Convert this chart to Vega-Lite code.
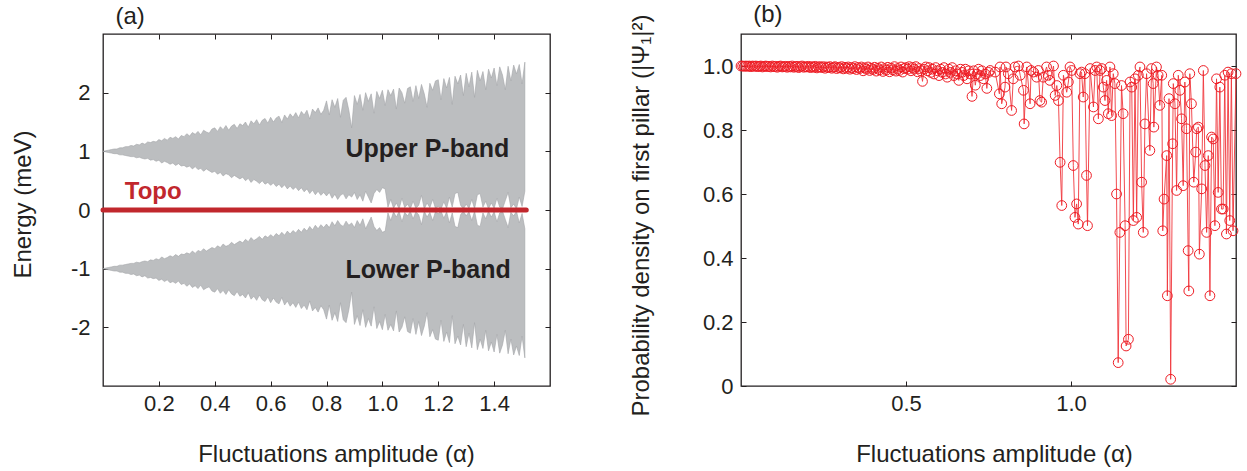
{
  "$schema": "https://vega.github.io/schema/vega-lite/v6.json",
  "background": "white",
  "padding": {"left": 10, "top": 2, "right": 0, "bottom": 0},
  "config": {
    "font": "Liberation Sans",
    "view": {"stroke": "#231f20", "strokeWidth": 1.3},
    "axis": {"domain": false, "grid": false, "tickSize": -5, "tickColor": "#231f20", "tickWidth": 1, "labelFontSize": 22, "labelColor": "#231f20", "labelFont": "Liberation Sans", "titleFontSize": 24, "titleFontWeight": "normal", "titleColor": "#231f20", "titleFont": "Liberation Sans"}
  },
  "datasets": {
    "bands": [
      {"x":0.00,"ut":1.00,"ub":1.00,"lt":-1.00,"lb":-1.00},
      {"x":0.01,"ut":1.01,"ub":0.99,"lt":-0.99,"lb":-1.01},
      {"x":0.02,"ut":1.02,"ub":0.98,"lt":-0.98,"lb":-1.02},
      {"x":0.03,"ut":1.03,"ub":0.97,"lt":-0.97,"lb":-1.03},
      {"x":0.04,"ut":1.04,"ub":0.96,"lt":-0.96,"lb":-1.04},
      {"x":0.05,"ut":1.04,"ub":0.96,"lt":-0.96,"lb":-1.04},
      {"x":0.06,"ut":1.06,"ub":0.94,"lt":-0.94,"lb":-1.06},
      {"x":0.07,"ut":1.06,"ub":0.94,"lt":-0.94,"lb":-1.06},
      {"x":0.08,"ut":1.08,"ub":0.93,"lt":-0.93,"lb":-1.08},
      {"x":0.09,"ut":1.08,"ub":0.92,"lt":-0.92,"lb":-1.08},
      {"x":0.10,"ut":1.10,"ub":0.91,"lt":-0.91,"lb":-1.10},
      {"x":0.11,"ut":1.09,"ub":0.91,"lt":-0.91,"lb":-1.09},
      {"x":0.12,"ut":1.12,"ub":0.89,"lt":-0.89,"lb":-1.12},
      {"x":0.13,"ut":1.11,"ub":0.90,"lt":-0.90,"lb":-1.11},
      {"x":0.14,"ut":1.14,"ub":0.88,"lt":-0.88,"lb":-1.14},
      {"x":0.15,"ut":1.12,"ub":0.87,"lt":-0.87,"lb":-1.12},
      {"x":0.16,"ut":1.16,"ub":0.88,"lt":-0.88,"lb":-1.16},
      {"x":0.17,"ut":1.15,"ub":0.85,"lt":-0.85,"lb":-1.15},
      {"x":0.18,"ut":1.17,"ub":0.86,"lt":-0.86,"lb":-1.17},
      {"x":0.19,"ut":1.16,"ub":0.83,"lt":-0.83,"lb":-1.16},
      {"x":0.20,"ut":1.20,"ub":0.85,"lt":-0.85,"lb":-1.20},
      {"x":0.21,"ut":1.18,"ub":0.80,"lt":-0.80,"lb":-1.18},
      {"x":0.22,"ut":1.22,"ub":0.83,"lt":-0.83,"lb":-1.22},
      {"x":0.23,"ut":1.19,"ub":0.81,"lt":-0.81,"lb":-1.19},
      {"x":0.24,"ut":1.24,"ub":0.78,"lt":-0.78,"lb":-1.24},
      {"x":0.25,"ut":1.22,"ub":0.80,"lt":-0.80,"lb":-1.22},
      {"x":0.26,"ut":1.25,"ub":0.76,"lt":-0.76,"lb":-1.25},
      {"x":0.27,"ut":1.21,"ub":0.79,"lt":-0.79,"lb":-1.21},
      {"x":0.28,"ut":1.27,"ub":0.75,"lt":-0.75,"lb":-1.27},
      {"x":0.29,"ut":1.25,"ub":0.76,"lt":-0.76,"lb":-1.25},
      {"x":0.30,"ut":1.30,"ub":0.73,"lt":-0.73,"lb":-1.30},
      {"x":0.31,"ut":1.26,"ub":0.75,"lt":-0.75,"lb":-1.26},
      {"x":0.32,"ut":1.32,"ub":0.70,"lt":-0.70,"lb":-1.32},
      {"x":0.33,"ut":1.29,"ub":0.74,"lt":-0.74,"lb":-1.29},
      {"x":0.34,"ut":1.34,"ub":0.69,"lt":-0.69,"lb":-1.34},
      {"x":0.35,"ut":1.28,"ub":0.71,"lt":-0.71,"lb":-1.28},
      {"x":0.36,"ut":1.36,"ub":0.66,"lt":-0.66,"lb":-1.36},
      {"x":0.37,"ut":1.33,"ub":0.70,"lt":-0.70,"lb":-1.33},
      {"x":0.38,"ut":1.31,"ub":0.67,"lt":-0.67,"lb":-1.31},
      {"x":0.39,"ut":1.38,"ub":0.64,"lt":-0.64,"lb":-1.38},
      {"x":0.40,"ut":1.40,"ub":0.66,"lt":-0.66,"lb":-1.40},
      {"x":0.41,"ut":1.34,"ub":0.61,"lt":-0.61,"lb":-1.34},
      {"x":0.42,"ut":1.42,"ub":0.64,"lt":-0.64,"lb":-1.42},
      {"x":0.43,"ut":1.37,"ub":0.58,"lt":-0.58,"lb":-1.37},
      {"x":0.44,"ut":1.44,"ub":0.62,"lt":-0.62,"lb":-1.44},
      {"x":0.45,"ut":1.36,"ub":0.60,"lt":-0.60,"lb":-1.36},
      {"x":0.46,"ut":1.43,"ub":0.55,"lt":-0.55,"lb":-1.43},
      {"x":0.47,"ut":1.46,"ub":0.59,"lt":-0.59,"lb":-1.46},
      {"x":0.48,"ut":1.39,"ub":0.56,"lt":-0.56,"lb":-1.39},
      {"x":0.49,"ut":1.47,"ub":0.53,"lt":-0.53,"lb":-1.47},
      {"x":0.50,"ut":1.44,"ub":0.56,"lt":-0.56,"lb":-1.44},
      {"x":0.51,"ut":1.50,"ub":0.50,"lt":-0.50,"lb":-1.50},
      {"x":0.52,"ut":1.41,"ub":0.54,"lt":-0.54,"lb":-1.41},
      {"x":0.53,"ut":1.52,"ub":0.47,"lt":-0.47,"lb":-1.52},
      {"x":0.54,"ut":1.47,"ub":0.52,"lt":-0.52,"lb":-1.47},
      {"x":0.55,"ut":1.54,"ub":0.49,"lt":-0.49,"lb":-1.54},
      {"x":0.56,"ut":1.45,"ub":0.45,"lt":-0.45,"lb":-1.45},
      {"x":0.57,"ut":1.53,"ub":0.50,"lt":-0.50,"lb":-1.53},
      {"x":0.58,"ut":1.56,"ub":0.44,"lt":-0.44,"lb":-1.56},
      {"x":0.59,"ut":1.48,"ub":0.47,"lt":-0.47,"lb":-1.48},
      {"x":0.60,"ut":1.58,"ub":0.42,"lt":-0.42,"lb":-1.58},
      {"x":0.61,"ut":1.50,"ub":0.46,"lt":-0.46,"lb":-1.50},
      {"x":0.62,"ut":1.57,"ub":0.40,"lt":-0.40,"lb":-1.57},
      {"x":0.63,"ut":1.60,"ub":0.44,"lt":-0.44,"lb":-1.60},
      {"x":0.64,"ut":1.49,"ub":0.38,"lt":-0.38,"lb":-1.49},
      {"x":0.65,"ut":1.62,"ub":0.43,"lt":-0.43,"lb":-1.62},
      {"x":0.66,"ut":1.55,"ub":0.36,"lt":-0.36,"lb":-1.55},
      {"x":0.67,"ut":1.64,"ub":0.41,"lt":-0.41,"lb":-1.64},
      {"x":0.68,"ut":1.58,"ub":0.35,"lt":-0.35,"lb":-1.58},
      {"x":0.69,"ut":1.66,"ub":0.39,"lt":-0.39,"lb":-1.66},
      {"x":0.70,"ut":1.57,"ub":0.33,"lt":-0.33,"lb":-1.57},
      {"x":0.71,"ut":1.68,"ub":0.38,"lt":-0.38,"lb":-1.68},
      {"x":0.72,"ut":1.62,"ub":0.31,"lt":-0.31,"lb":-1.62},
      {"x":0.73,"ut":1.70,"ub":0.36,"lt":-0.36,"lb":-1.70},
      {"x":0.74,"ut":1.55,"ub":0.28,"lt":-0.28,"lb":-1.55},
      {"x":0.75,"ut":1.72,"ub":0.34,"lt":-0.34,"lb":-1.72},
      {"x":0.76,"ut":1.66,"ub":0.26,"lt":-0.26,"lb":-1.66},
      {"x":0.77,"ut":1.74,"ub":0.32,"lt":-0.32,"lb":-1.74},
      {"x":0.78,"ut":1.63,"ub":0.25,"lt":-0.25,"lb":-1.63},
      {"x":0.79,"ut":1.70,"ub":0.30,"lt":-0.30,"lb":-1.70},
      {"x":0.80,"ut":1.86,"ub":0.24,"lt":-0.24,"lb":-1.86},
      {"x":0.81,"ut":1.62,"ub":0.30,"lt":-0.30,"lb":-1.62},
      {"x":0.82,"ut":1.88,"ub":0.20,"lt":-0.20,"lb":-1.88},
      {"x":0.83,"ut":1.75,"ub":0.27,"lt":-0.27,"lb":-1.75},
      {"x":0.84,"ut":1.90,"ub":0.18,"lt":-0.18,"lb":-1.90},
      {"x":0.85,"ut":1.58,"ub":0.25,"lt":-0.25,"lb":-1.58},
      {"x":0.86,"ut":1.87,"ub":0.28,"lt":-0.28,"lb":-1.87},
      {"x":0.87,"ut":1.92,"ub":0.19,"lt":-0.19,"lb":-1.92},
      {"x":0.88,"ut":1.70,"ub":0.26,"lt":-0.26,"lb":-1.70},
      {"x":0.89,"ut":1.40,"ub":0.22,"lt":-0.22,"lb":-1.40},
      {"x":0.90,"ut":1.95,"ub":0.30,"lt":-0.30,"lb":-1.95},
      {"x":0.91,"ut":1.80,"ub":0.18,"lt":-0.18,"lb":-1.80},
      {"x":0.92,"ut":1.97,"ub":0.26,"lt":-0.26,"lb":-1.97},
      {"x":0.93,"ut":1.70,"ub":0.15,"lt":-0.15,"lb":-1.70},
      {"x":0.94,"ut":2.00,"ub":0.32,"lt":-0.32,"lb":-2.00},
      {"x":0.95,"ut":1.85,"ub":0.22,"lt":-0.22,"lb":-1.85},
      {"x":0.96,"ut":1.98,"ub":0.12,"lt":-0.12,"lb":-1.98},
      {"x":0.97,"ut":1.65,"ub":0.28,"lt":-0.28,"lb":-1.65},
      {"x":0.98,"ut":2.02,"ub":0.35,"lt":-0.35,"lb":-2.02},
      {"x":0.99,"ut":1.90,"ub":0.30,"lt":-0.30,"lb":-1.90},
      {"x":1.00,"ut":2.04,"ub":0.38,"lt":-0.38,"lb":-2.04},
      {"x":1.01,"ut":1.78,"ub":0.36,"lt":-0.36,"lb":-1.78},
      {"x":1.02,"ut":2.05,"ub":0.05,"lt":-0.05,"lb":-2.05},
      {"x":1.03,"ut":1.95,"ub":0.18,"lt":-0.18,"lb":-1.95},
      {"x":1.04,"ut":2.06,"ub":0.03,"lt":-0.03,"lb":-2.06},
      {"x":1.05,"ut":1.72,"ub":0.12,"lt":-0.12,"lb":-1.72},
      {"x":1.06,"ut":2.08,"ub":0.02,"lt":-0.02,"lb":-2.08},
      {"x":1.07,"ut":2.00,"ub":0.20,"lt":-0.20,"lb":-2.00},
      {"x":1.08,"ut":1.82,"ub":0.04,"lt":-0.04,"lb":-1.82},
      {"x":1.09,"ut":2.07,"ub":0.10,"lt":-0.10,"lb":-2.07},
      {"x":1.10,"ut":2.10,"ub":0.02,"lt":-0.02,"lb":-2.10},
      {"x":1.11,"ut":1.85,"ub":0.15,"lt":-0.15,"lb":-1.85},
      {"x":1.12,"ut":2.12,"ub":0.03,"lt":-0.03,"lb":-2.12},
      {"x":1.13,"ut":1.90,"ub":0.08,"lt":-0.08,"lb":-1.90},
      {"x":1.14,"ut":2.14,"ub":0.25,"lt":-0.25,"lb":-2.14},
      {"x":1.15,"ut":1.98,"ub":0.02,"lt":-0.02,"lb":-1.98},
      {"x":1.16,"ut":1.75,"ub":0.12,"lt":-0.12,"lb":-1.75},
      {"x":1.17,"ut":2.16,"ub":0.04,"lt":-0.04,"lb":-2.16},
      {"x":1.18,"ut":2.04,"ub":0.18,"lt":-0.18,"lb":-2.04},
      {"x":1.19,"ut":2.20,"ub":0.03,"lt":-0.03,"lb":-2.20},
      {"x":1.20,"ut":2.22,"ub":0.06,"lt":-0.06,"lb":-2.22},
      {"x":1.21,"ut":1.88,"ub":0.02,"lt":-0.02,"lb":-1.88},
      {"x":1.22,"ut":2.24,"ub":0.14,"lt":-0.14,"lb":-2.24},
      {"x":1.23,"ut":2.08,"ub":0.03,"lt":-0.03,"lb":-2.08},
      {"x":1.24,"ut":2.26,"ub":0.22,"lt":-0.22,"lb":-2.26},
      {"x":1.25,"ut":1.80,"ub":0.05,"lt":-0.05,"lb":-1.80},
      {"x":1.26,"ut":2.28,"ub":0.28,"lt":-0.28,"lb":-2.28},
      {"x":1.27,"ut":2.15,"ub":0.30,"lt":-0.30,"lb":-2.15},
      {"x":1.28,"ut":2.30,"ub":0.08,"lt":-0.08,"lb":-2.30},
      {"x":1.29,"ut":1.95,"ub":0.02,"lt":-0.02,"lb":-1.95},
      {"x":1.30,"ut":2.33,"ub":0.10,"lt":-0.10,"lb":-2.33},
      {"x":1.31,"ut":2.10,"ub":0.03,"lt":-0.03,"lb":-2.10},
      {"x":1.32,"ut":2.35,"ub":0.18,"lt":-0.18,"lb":-2.35},
      {"x":1.33,"ut":1.92,"ub":0.02,"lt":-0.02,"lb":-1.92},
      {"x":1.34,"ut":2.38,"ub":0.26,"lt":-0.26,"lb":-2.38},
      {"x":1.35,"ut":2.20,"ub":0.28,"lt":-0.28,"lb":-2.20},
      {"x":1.36,"ut":2.36,"ub":0.05,"lt":-0.05,"lb":-2.36},
      {"x":1.37,"ut":2.05,"ub":0.15,"lt":-0.15,"lb":-2.05},
      {"x":1.38,"ut":2.40,"ub":0.02,"lt":-0.02,"lb":-2.40},
      {"x":1.39,"ut":2.25,"ub":0.12,"lt":-0.12,"lb":-2.25},
      {"x":1.40,"ut":2.42,"ub":0.03,"lt":-0.03,"lb":-2.42},
      {"x":1.41,"ut":2.12,"ub":0.20,"lt":-0.20,"lb":-2.12},
      {"x":1.42,"ut":2.44,"ub":0.05,"lt":-0.05,"lb":-2.44},
      {"x":1.43,"ut":2.30,"ub":0.02,"lt":-0.02,"lb":-2.30},
      {"x":1.44,"ut":2.05,"ub":0.16,"lt":-0.16,"lb":-2.05},
      {"x":1.45,"ut":2.45,"ub":0.30,"lt":-0.30,"lb":-2.45},
      {"x":1.46,"ut":2.20,"ub":0.04,"lt":-0.04,"lb":-2.20},
      {"x":1.47,"ut":2.47,"ub":0.10,"lt":-0.10,"lb":-2.47},
      {"x":1.48,"ut":2.32,"ub":0.02,"lt":-0.02,"lb":-2.32},
      {"x":1.49,"ut":2.48,"ub":0.22,"lt":-0.22,"lb":-2.48},
      {"x":1.50,"ut":2.15,"ub":0.06,"lt":-0.06,"lb":-2.15},
      {"x":1.51,"ut":2.52,"ub":0.32,"lt":-0.32,"lb":-2.52}
    ],
    "topo": [
      {"x": 0.0, "y": 0.0},
      {"x": 1.515, "y": 0.0}
    ],
    "prob": [
      {"x":0,"p":1.000},{"x":0.005,"p":1.000},{"x":0.01,"p":0.999},{"x":0.015,"p":1.000},{"x":0.02,"p":0.999},
      {"x":0.025,"p":1.000},{"x":0.03,"p":0.998},{"x":0.035,"p":1.000},{"x":0.04,"p":0.999},{"x":0.045,"p":1.000},
      {"x":0.05,"p":0.998},{"x":0.055,"p":0.999},{"x":0.06,"p":1.000},{"x":0.065,"p":0.997},{"x":0.07,"p":0.999},
      {"x":0.075,"p":1.000},{"x":0.08,"p":0.998},{"x":0.085,"p":0.999},{"x":0.09,"p":0.997},{"x":0.095,"p":1.000},
      {"x":0.1,"p":0.998},{"x":0.105,"p":0.999},{"x":0.11,"p":0.996},{"x":0.115,"p":0.999},{"x":0.12,"p":1.000},
      {"x":0.125,"p":0.997},{"x":0.13,"p":0.998},{"x":0.135,"p":0.999},{"x":0.14,"p":0.996},{"x":0.145,"p":0.999},
      {"x":0.15,"p":0.997},{"x":0.155,"p":1.000},{"x":0.16,"p":0.996},{"x":0.165,"p":0.998},{"x":0.17,"p":0.999},
      {"x":0.175,"p":0.995},{"x":0.18,"p":0.998},{"x":0.185,"p":1.000},{"x":0.19,"p":0.996},{"x":0.195,"p":0.998},
      {"x":0.2,"p":0.997},{"x":0.205,"p":0.999},{"x":0.21,"p":0.995},{"x":0.215,"p":0.998},{"x":0.22,"p":0.996},
      {"x":0.225,"p":0.999},{"x":0.23,"p":0.994},{"x":0.235,"p":0.997},{"x":0.24,"p":0.998},{"x":0.245,"p":0.995},
      {"x":0.25,"p":0.998},{"x":0.255,"p":0.993},{"x":0.26,"p":0.997},{"x":0.265,"p":0.995},{"x":0.27,"p":0.998},
      {"x":0.275,"p":0.993},{"x":0.28,"p":0.996},{"x":0.285,"p":0.998},{"x":0.29,"p":0.992},{"x":0.295,"p":0.996},
      {"x":0.3,"p":0.994},{"x":0.305,"p":0.998},{"x":0.31,"p":0.991},{"x":0.315,"p":0.996},{"x":0.32,"p":0.993},
      {"x":0.325,"p":0.997},{"x":0.33,"p":0.990},{"x":0.335,"p":0.995},{"x":0.34,"p":0.992},{"x":0.345,"p":0.998},
      {"x":0.35,"p":0.989},{"x":0.355,"p":0.995},{"x":0.36,"p":0.992},{"x":0.365,"p":0.997},{"x":0.37,"p":0.985},
      {"x":0.375,"p":0.994},{"x":0.38,"p":0.990},{"x":0.385,"p":0.997},{"x":0.39,"p":0.986},{"x":0.395,"p":0.993},
      {"x":0.4,"p":0.989},{"x":0.405,"p":0.996},{"x":0.41,"p":0.984},{"x":0.415,"p":0.993},{"x":0.42,"p":0.988},
      {"x":0.425,"p":0.997},{"x":0.43,"p":0.983},{"x":0.435,"p":0.992},{"x":0.44,"p":0.987},{"x":0.445,"p":0.996},
      {"x":0.45,"p":0.982},{"x":0.455,"p":0.993},{"x":0.46,"p":0.988},{"x":0.465,"p":0.998},{"x":0.47,"p":0.984},
      {"x":0.475,"p":0.992},{"x":0.48,"p":0.986},{"x":0.485,"p":0.997},{"x":0.49,"p":0.981},{"x":0.495,"p":0.992},
      {"x":0.5,"p":0.995},{"x":0.505,"p":0.990},{"x":0.51,"p":0.998},{"x":0.515,"p":0.985},{"x":0.52,"p":0.995},
      {"x":0.525,"p":0.990},{"x":0.53,"p":0.998},{"x":0.535,"p":0.982},{"x":0.54,"p":0.992},{"x":0.545,"p":0.985},
      {"x":0.55,"p":0.952},{"x":0.555,"p":0.990},{"x":0.56,"p":0.997},{"x":0.565,"p":0.985},{"x":0.57,"p":0.995},
      {"x":0.575,"p":0.980},{"x":0.58,"p":0.990},{"x":0.585,"p":0.975},{"x":0.59,"p":0.995},{"x":0.595,"p":0.985},
      {"x":0.6,"p":0.970},{"x":0.605,"p":0.990},{"x":0.61,"p":0.980},{"x":0.615,"p":0.995},{"x":0.62,"p":0.975},
      {"x":0.625,"p":0.965},{"x":0.63,"p":0.990},{"x":0.635,"p":0.980},{"x":0.64,"p":0.995},{"x":0.645,"p":0.970},
      {"x":0.65,"p":0.985},{"x":0.655,"p":0.975},{"x":0.66,"p":0.955},{"x":0.665,"p":0.990},{"x":0.67,"p":0.980},
      {"x":0.675,"p":0.970},{"x":0.68,"p":0.990},{"x":0.685,"p":0.960},{"x":0.69,"p":0.985},{"x":0.695,"p":0.975},
      {"x":0.7,"p":0.905},{"x":0.705,"p":0.985},{"x":0.71,"p":0.940},{"x":0.715,"p":0.975},{"x":0.72,"p":0.990},
      {"x":0.725,"p":0.970},{"x":0.73,"p":0.985},{"x":0.735,"p":0.960},{"x":0.74,"p":0.975},{"x":0.745,"p":0.930},
      {"x":0.75,"p":0.980},
      {"x":0.755,"p":0.986},{"x":0.770,"p":0.981},{"x":0.783,"p":0.913},{"x":0.785,"p":0.997},{"x":0.790,"p":0.882},
      {"x":0.800,"p":0.934},{"x":0.803,"p":0.997},{"x":0.810,"p":0.976},{"x":0.820,"p":0.861},{"x":0.825,"p":0.960},
      {"x":0.830,"p":0.997},{"x":0.841,"p":1.000},{"x":0.846,"p":0.971},{"x":0.856,"p":0.924},{"x":0.858,"p":0.819},
      {"x":0.866,"p":0.997},{"x":0.876,"p":0.882},{"x":0.879,"p":0.986},{"x":0.886,"p":0.981},{"x":0.896,"p":0.965},
      {"x":0.901,"p":0.986},{"x":0.906,"p":0.892},{"x":0.911,"p":0.887},{"x":0.916,"p":0.965},{"x":0.926,"p":0.997},
      {"x":0.931,"p":0.971},{"x":0.936,"p":0.955},{"x":0.947,"p":1.000},{"x":0.952,"p":0.908},{"x":0.957,"p":0.939},
      {"x":0.962,"p":0.892},{"x":0.967,"p":0.699},{"x":0.972,"p":0.564},{"x":0.977,"p":0.971},{"x":0.987,"p":0.918},
      {"x":0.992,"p":0.950},{"x":0.997,"p":0.997},{"x":1.002,"p":0.986},{"x":1.007,"p":0.689},{"x":1.012,"p":0.527},
      {"x":1.017,"p":0.569},{"x":1.022,"p":0.506},{"x":1.027,"p":0.976},{"x":1.032,"p":0.981},{"x":1.037,"p":0.903},
      {"x":1.042,"p":0.976},{"x":1.047,"p":0.658},{"x":1.050,"p":0.501},{"x":1.058,"p":0.992},{"x":1.068,"p":0.872},
      {"x":1.073,"p":0.986},{"x":1.078,"p":0.997},{"x":1.083,"p":0.835},{"x":1.088,"p":0.986},{"x":1.093,"p":0.992},
      {"x":1.098,"p":0.934},{"x":1.103,"p":0.892},{"x":1.108,"p":0.955},{"x":1.113,"p":0.851},{"x":1.118,"p":0.997},
      {"x":1.123,"p":0.845},{"x":1.128,"p":0.976},{"x":1.133,"p":0.945},{"x":1.138,"p":0.600},{"x":1.143,"p":0.073},
      {"x":1.148,"p":0.480},{"x":1.153,"p":0.939},{"x":1.158,"p":0.851},{"x":1.164,"p":0.501},{"x":1.167,"p":0.125},
      {"x":1.174,"p":0.146},{"x":1.179,"p":0.950},{"x":1.184,"p":0.934},{"x":1.189,"p":0.517},{"x":1.194,"p":0.960},
      {"x":1.199,"p":0.527},{"x":1.204,"p":0.971},{"x":1.209,"p":0.997},{"x":1.214,"p":0.637},{"x":1.219,"p":0.480},
      {"x":1.224,"p":0.819},{"x":1.229,"p":0.976},{"x":1.239,"p":0.736},{"x":1.244,"p":0.992},{"x":1.249,"p":0.945},
      {"x":1.251,"p":0.809},{"x":1.259,"p":0.997},{"x":1.264,"p":0.971},{"x":1.269,"p":0.877},{"x":1.275,"p":0.971},
      {"x":1.278,"p":0.485},{"x":1.282,"p":0.584},{"x":1.290,"p":0.720},{"x":1.292,"p":0.282},{"x":1.297,"p":0.898},
      {"x":1.302,"p":0.021},{"x":1.308,"p":0.757},{"x":1.310,"p":0.945},{"x":1.315,"p":0.882},{"x":1.320,"p":0.611},
      {"x":1.325,"p":0.971},{"x":1.330,"p":0.924},{"x":1.335,"p":0.835},{"x":1.340,"p":0.626},{"x":1.345,"p":0.950},
      {"x":1.350,"p":0.804},{"x":1.355,"p":0.423},{"x":1.357,"p":0.297},{"x":1.360,"p":0.976},{"x":1.365,"p":0.882},
      {"x":1.372,"p":0.637},{"x":1.378,"p":0.731},{"x":1.381,"p":0.804},{"x":1.386,"p":0.809},{"x":1.389,"p":0.412},
      {"x":1.396,"p":0.616},{"x":1.401,"p":0.986},{"x":1.406,"p":0.689},{"x":1.411,"p":0.480},{"x":1.416,"p":0.720},
      {"x":1.421,"p":0.282},{"x":1.426,"p":0.778},{"x":1.431,"p":0.772},{"x":1.436,"p":0.501},{"x":1.441,"p":0.960},
      {"x":1.446,"p":0.605},{"x":1.451,"p":0.934},{"x":1.456,"p":0.553},{"x":1.461,"p":0.553},{"x":1.466,"p":0.971},
      {"x":1.471,"p":0.475},{"x":1.476,"p":0.981},{"x":1.481,"p":0.517},{"x":1.486,"p":0.976},{"x":1.491,"p":0.485},
      {"x":1.500,"p":0.976}
    ]
  },
  "spacing": 191,
  "bounds": "flush",
  "hconcat": [
    {
      "width": 447,
      "height": 352,
      "layer": [
        {
          "data": {"name": "bands"},
          "mark": {"type": "area", "color": "#bcbec0", "stroke": "#a2a4a7", "strokeWidth": 0.6},
          "encoding": {
            "x": {"field": "x", "type": "quantitative", "scale": {"domain": [0, 1.6], "nice": false},
                  "axis": {"values": [0.2, 0.4, 0.6, 0.8, 1.0, 1.2, 1.4], "format": ".1f", "title": "Fluctuations amplitude (α)", "labelPadding": 12, "titlePadding": 28, "titleX": 233}},
            "y": {"field": "ut", "type": "quantitative", "scale": {"domain": [-3, 3], "nice": false},
                  "axis": {"values": [-2, -1, 0, 1, 2], "labelExpr": "'' + datum.value", "title": "Energy (meV)", "labelPadding": 18, "titlePadding": 35, "titleY": 170}},
            "y2": {"field": "ub"}
          }
        },
        {
          "data": {"name": "bands"},
          "mark": {"type": "area", "color": "#bcbec0", "stroke": "#a2a4a7", "strokeWidth": 0.6},
          "encoding": {
            "x": {"field": "x", "type": "quantitative", "scale": {"domain": [0, 1.6], "nice": false},
                  "axis": {"orient": "top", "values": [0.2, 0.4, 0.6, 0.8, 1.0, 1.2, 1.4], "labels": false, "title": null}},
            "y": {"field": "lt", "type": "quantitative", "scale": {"domain": [-3, 3], "nice": false},
                  "axis": {"orient": "right", "values": [-2, -1, 0, 1, 2], "labels": false, "title": null}},
            "y2": {"field": "lb"}
          }
        },
        {
          "data": {"name": "topo"},
          "mark": {"type": "line", "color": "#c1272d", "strokeWidth": 5, "strokeCap": "round"},
          "encoding": {
            "x": {"field": "x", "type": "quantitative", "scale": {"domain": [0, 1.6], "nice": false}, "axis": null},
            "y": {"field": "y", "type": "quantitative", "scale": {"domain": [-3, 3], "nice": false}, "axis": null}
          }
        },
        {
          "data": {"values": [{}]},
          "mark": {"type": "text", "text": "Upper P-band", "fontSize": 25, "fontWeight": "bold", "color": "#231f20", "align": "left", "baseline": "alphabetic"},
          "encoding": {
            "x": {"datum": 0.868, "type": "quantitative", "axis": null},
            "y": {"datum": 0.896, "type": "quantitative", "axis": null}
          }
        },
        {
          "data": {"values": [{}]},
          "mark": {"type": "text", "text": "Lower P-band", "fontSize": 25, "fontWeight": "bold", "color": "#231f20", "align": "left", "baseline": "alphabetic"},
          "encoding": {
            "x": {"datum": 0.868, "type": "quantitative", "axis": null},
            "y": {"datum": -1.153, "type": "quantitative", "axis": null}
          }
        },
        {
          "data": {"values": [{}]},
          "mark": {"type": "text", "text": "Topo", "fontSize": 24, "fontWeight": "bold", "color": "#c1272d", "align": "left", "baseline": "alphabetic"},
          "encoding": {
            "x": {"datum": 0.078, "type": "quantitative", "axis": null},
            "y": {"datum": 0.195, "type": "quantitative", "axis": null}
          }
        },
        {
          "data": {"values": [{}]},
          "mark": {"type": "text", "text": "(a)", "fontSize": 24, "color": "#231f20", "align": "left", "baseline": "alphabetic"},
          "encoding": {
            "x": {"datum": 0.0445, "type": "quantitative", "axis": null},
            "y": {"datum": 3.172, "type": "quantitative", "axis": null}
          }
        }
      ],
      "resolve": {"axis": {"x": "independent", "y": "independent"}}
    },
    {
      "width": 495,
      "height": 352,
      "data": {"name": "prob"},
      "layer": [
        {
          "mark": {"type": "line", "color": "#f0373c", "strokeWidth": 0.9},
          "encoding": {
            "x": {"field": "x", "type": "quantitative", "scale": {"domain": [0, 1.5], "nice": false},
                  "axis": {"values": [0.5, 1.0], "format": ".1f", "title": "Fluctuations amplitude (α)", "labelPadding": 12, "titlePadding": 28, "titleX": 253}},
            "y": {"field": "p", "type": "quantitative", "scale": {"domain": [0, 1.1], "nice": false},
                  "axis": {"values": [0, 0.2, 0.4, 0.6, 0.8, 1.0], "labelExpr": "datum.value == 0 ? '0' : format(datum.value, '.1f')", "title": "Probability density on first pillar (|Ψ₁|²)", "labelPadding": 13, "titlePadding": 49, "titleY": 181}}
          }
        },
        {
          "mark": {"type": "point", "shape": "circle", "filled": false, "color": "#ee1c24", "size": 95, "strokeWidth": 1, "opacity": 1},
          "encoding": {
            "x": {"field": "x", "type": "quantitative", "scale": {"domain": [0, 1.5], "nice": false},
                  "axis": {"orient": "top", "values": [0.5, 1.0], "labels": false, "title": null}},
            "y": {"field": "p", "type": "quantitative", "scale": {"domain": [0, 1.1], "nice": false},
                  "axis": {"orient": "right", "values": [0, 0.2, 0.4, 0.6, 0.8, 1.0], "labels": false, "title": null}}
          }
        },
        {
          "data": {"values": [{}]},
          "mark": {"type": "text", "text": "(b)", "fontSize": 24, "color": "#231f20", "align": "left", "baseline": "alphabetic"},
          "encoding": {
            "x": {"datum": 0.037, "type": "quantitative", "axis": null},
            "y": {"datum": 1.137, "type": "quantitative", "axis": null}
          }
        }
      ],
      "resolve": {"axis": {"x": "independent", "y": "independent"}}
    }
  ]
}
